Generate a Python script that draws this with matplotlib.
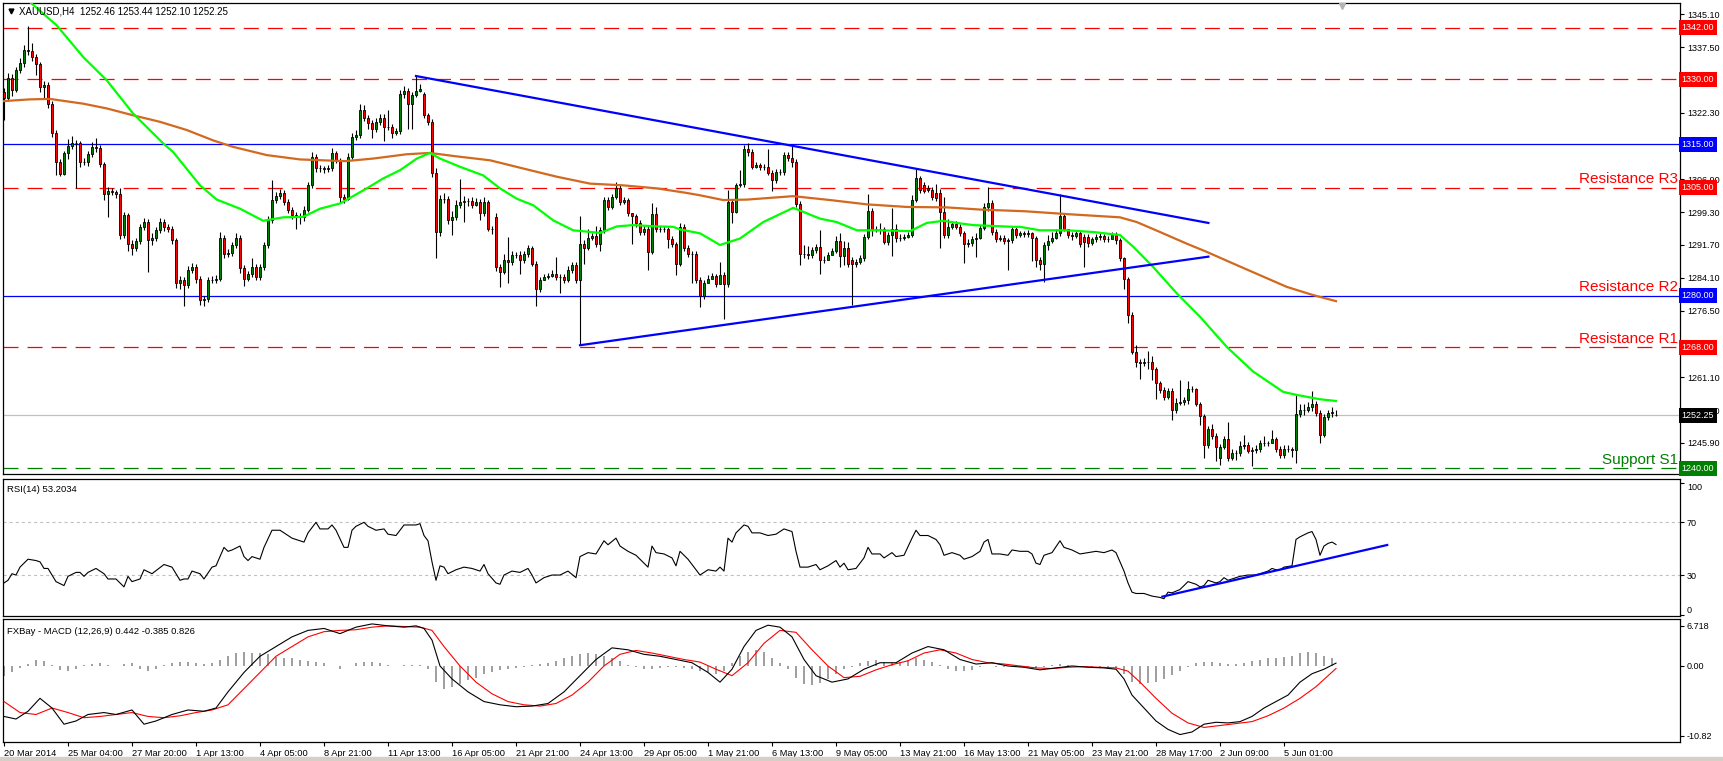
import matplotlib
matplotlib.use("Agg")
import matplotlib.pyplot as plt
from matplotlib.patches import Rectangle
from matplotlib.transforms import blended_transform_factory

plt.rcParams['font.family'] = ['Liberation Sans', 'DejaVu Sans']
plt.rcParams['lines.scale_dashes'] = False

symbol_title = "XAUUSD,H4  1252.46 1253.44 1252.10 1252.25"
rsi_title = "RSI(14) 53.2034"
macd_title = "FXBay - MACD (12,26,9) 0.442 -0.385 0.826"

# ---- H4 candles, one entry per bar ----
opens = [1327.0, 1325.8, 1330.4, 1327.5, 1332.1, 1333.7, 1336.9, 1336.6, 1335.1, 1333.5,
         1328.3, 1328.7, 1324.3, 1317.5, 1310.9, 1308.2, 1312.9, 1314.6, 1315.3, 1315.2,
         1310.9, 1310.9, 1312.7, 1314.4, 1314.2, 1310.4, 1303.4, 1304.2, 1304.0, 1303.6,
         1294.0, 1298.6, 1292.0, 1291.1, 1292.7, 1295.9, 1297.0, 1292.8, 1293.2, 1295.1,
         1297.0, 1295.9, 1295.5, 1292.8, 1282.8, 1283.7, 1282.4, 1286.0, 1286.6, 1283.9,
         1278.9, 1279.1, 1283.6, 1283.6, 1283.9, 1293.4, 1289.7, 1289.9, 1291.7, 1293.4,
         1286.3, 1283.9, 1284.9, 1286.5, 1284.2, 1286.5, 1291.7, 1297.4, 1302.2, 1303.0,
         1303.8, 1301.7, 1299.9, 1298.6, 1298.2, 1298.1, 1299.9, 1305.5, 1312.1, 1309.4,
         1309.4, 1309.2, 1309.4, 1312.9, 1311.3, 1302.8, 1302.4, 1312.1, 1316.7, 1317.1,
         1323.0, 1321.2, 1319.9, 1318.6, 1320.2, 1321.2, 1318.9, 1319.0, 1317.6, 1318.0,
         1326.7, 1327.4, 1324.4, 1326.3, 1327.4, 1326.6, 1321.7, 1320.2, 1308.4, 1294.7,
         1302.4, 1302.4, 1297.4, 1298.2, 1300.9, 1301.7, 1301.9, 1301.9, 1300.9, 1301.7,
         1299.0, 1301.7, 1295.5, 1298.1, 1286.6, 1285.5, 1288.2, 1287.8, 1289.3, 1289.3,
         1288.2, 1289.6, 1290.9, 1287.4, 1281.4, 1283.6, 1284.2, 1284.5, 1285.1, 1284.2,
         1284.3, 1283.7, 1286.0, 1287.0, 1283.6, 1291.9, 1291.1, 1293.2, 1293.7, 1292.0,
         1295.1, 1302.1, 1300.4, 1302.7, 1304.8, 1301.7, 1302.1, 1299.1, 1298.4, 1296.7,
         1294.7, 1295.3, 1290.1, 1298.8, 1295.3, 1295.5, 1295.3, 1293.0, 1291.9, 1287.4,
         1295.9, 1291.1, 1289.6, 1289.7, 1283.6, 1279.9, 1282.8, 1283.9, 1284.5, 1282.6,
         1284.7, 1282.6, 1301.7, 1299.4, 1305.5, 1305.8, 1314.0, 1313.2, 1309.8, 1310.2,
         1309.8, 1309.8, 1308.4, 1306.8, 1308.6, 1308.6, 1312.5, 1311.9, 1310.9, 1301.1,
         1289.7, 1289.7, 1289.3, 1290.5, 1291.3, 1288.2, 1288.3, 1289.3, 1290.3, 1292.7,
         1289.1, 1291.1, 1288.2, 1287.4, 1287.8, 1288.6, 1293.6, 1299.6, 1295.3, 1295.5,
         1295.3, 1292.4, 1294.0, 1295.5, 1293.2, 1293.4, 1293.6, 1294.0, 1302.2, 1307.1,
         1305.6, 1305.0, 1304.4, 1303.8, 1303.8, 1299.4, 1294.0, 1295.9, 1296.5, 1295.9,
         1294.4, 1291.9, 1292.2, 1293.0, 1293.2, 1295.7, 1300.4, 1301.4, 1294.7, 1293.0,
         1293.4, 1292.7, 1292.8, 1295.3, 1294.0, 1294.4, 1294.2, 1294.4, 1293.2, 1288.2,
         1287.4, 1291.7, 1292.7, 1293.4, 1294.4, 1298.4, 1295.5, 1294.0, 1293.7, 1294.4,
         1293.6, 1293.6, 1292.2, 1293.0, 1293.6, 1293.7, 1293.1, 1293.0, 1294.0, 1292.8,
         1288.6, 1283.9, 1275.5, 1267.0, 1264.7, 1264.3, 1264.7, 1264.7, 1262.9, 1259.7,
         1258.1, 1256.6, 1258.0, 1253.5, 1255.2, 1255.4, 1255.8, 1258.3, 1258.3, 1255.0,
         1252.1, 1245.4, 1249.2, 1247.5, 1242.5, 1244.9, 1246.9, 1242.5, 1243.6, 1243.5,
         1245.2, 1245.4, 1244.1, 1244.2, 1244.6, 1245.9, 1245.8, 1245.8, 1246.7, 1244.6,
         1243.1, 1244.6, 1244.6, 1244.2, 1252.6, 1253.5, 1253.6, 1254.1, 1255.0, 1252.9,
         1247.7, 1251.9, 1252.9, 1252.46]
highs = [1328.0, 1331.5, 1331.2, 1333.0, 1334.9, 1338.0, 1342.3, 1338.4, 1335.8, 1334.0,
         1329.6, 1329.5, 1325.0, 1318.3, 1311.5, 1313.4, 1316.2, 1316.9, 1316.0, 1315.8,
         1311.8, 1313.5, 1315.6, 1316.5, 1314.8, 1311.0, 1305.2, 1305.0, 1304.5, 1304.8,
         1299.4, 1299.2, 1292.8, 1293.4, 1296.5, 1298.0, 1297.6, 1294.5, 1295.8, 1298.0,
         1297.8, 1296.6, 1296.0, 1293.4, 1284.5, 1284.4, 1286.8, 1287.5, 1287.2, 1284.5,
         1280.0, 1284.4, 1284.5, 1284.8, 1294.8, 1294.0, 1290.8, 1292.5, 1294.5, 1294.0,
         1287.0, 1285.6, 1288.8, 1287.4, 1287.3, 1292.5, 1298.3, 1306.7, 1304.0, 1304.6,
         1304.4, 1302.3, 1300.6, 1299.3, 1299.0, 1300.8, 1306.3, 1313.3, 1312.8, 1310.2,
         1310.0, 1310.3, 1314.1, 1313.4, 1311.8, 1303.6, 1312.9, 1317.5, 1318.2, 1324.3,
         1324.2, 1321.8, 1320.6, 1321.0, 1322.0, 1321.9, 1323.0, 1319.6, 1318.8, 1327.5,
         1328.4, 1328.0, 1327.0, 1330.8, 1328.9, 1327.1, 1322.2, 1320.9, 1309.4, 1303.2,
         1303.8, 1303.0, 1299.5, 1302.0, 1307.0, 1303.0, 1302.6, 1302.8, 1302.5, 1302.4,
         1302.8, 1302.2, 1296.1, 1299.0, 1287.4, 1289.5, 1293.6, 1290.2, 1290.0, 1290.3,
         1290.3, 1291.7, 1291.5, 1288.0, 1284.3, 1285.0, 1285.2, 1285.9, 1288.9, 1285.0,
         1285.0, 1286.8, 1287.8, 1287.7, 1298.3, 1292.8, 1295.4, 1294.5, 1296.0, 1295.8,
         1302.9, 1302.8, 1303.4, 1306.3, 1305.5, 1302.8, 1302.6, 1299.2, 1298.9, 1297.4,
         1296.0, 1296.0, 1301.5, 1300.4, 1296.2, 1296.0, 1295.9, 1293.8, 1292.5, 1296.7,
         1296.5, 1291.8, 1290.4, 1290.3, 1284.3, 1283.6, 1284.7, 1285.3, 1285.0, 1287.8,
         1285.4, 1304.4, 1302.4, 1306.0, 1309.0, 1314.8, 1315.3, 1313.9, 1311.0, 1310.6,
         1310.5, 1313.8, 1309.0, 1309.3, 1309.2, 1313.2, 1313.3, 1314.5, 1311.5, 1301.8,
         1291.7, 1291.5, 1291.3, 1292.0, 1295.2, 1289.2, 1290.0, 1291.0, 1293.7, 1294.5,
         1292.6, 1292.5, 1289.0, 1288.5, 1289.4, 1294.3, 1303.5, 1300.2, 1296.2, 1296.8,
         1295.9, 1294.7, 1300.2, 1296.6, 1294.2, 1294.3, 1294.6, 1303.2, 1309.4, 1307.7,
         1306.2, 1305.6, 1305.2, 1305.8, 1304.6, 1302.8, 1297.6, 1297.1, 1297.3, 1296.6,
         1295.0, 1293.0, 1293.7, 1294.5, 1296.4, 1301.5, 1305.1, 1302.0, 1295.3, 1294.1,
         1294.0, 1293.4, 1296.0, 1295.9, 1295.0, 1294.9, 1295.2, 1294.8, 1293.8, 1289.0,
         1292.4, 1294.0, 1294.6, 1295.3, 1303.6, 1298.9, 1295.4, 1294.8, 1295.0, 1294.9,
         1294.2, 1294.2, 1293.6, 1294.2, 1294.5, 1294.3, 1293.7, 1294.7, 1294.6, 1293.3,
         1289.0, 1284.4, 1276.1, 1268.5, 1265.3, 1265.5, 1267.2, 1266.0, 1263.4, 1260.3,
         1258.9, 1258.6, 1258.7, 1256.2, 1260.4, 1256.5, 1260.3, 1259.0, 1258.7, 1255.4,
         1252.6, 1249.9, 1250.2, 1248.3, 1245.6, 1247.5, 1250.8, 1244.5, 1244.3, 1246.3,
         1247.7, 1246.0, 1245.0, 1245.3, 1246.6, 1247.4, 1246.4, 1248.9, 1247.3, 1245.2,
         1245.3, 1245.5, 1245.0, 1256.9, 1255.0, 1254.8, 1255.4, 1258.0, 1255.6, 1253.6,
         1252.5, 1253.6, 1254.3, 1253.44]
lows = [1320.6, 1325.0, 1326.2, 1327.0, 1331.4, 1333.0, 1335.6, 1334.2, 1331.0, 1327.2,
        1325.5, 1323.5, 1316.8, 1308.0, 1307.6, 1307.9, 1311.5, 1313.8, 1305.0, 1309.8,
        1310.2, 1310.0, 1312.0, 1313.3, 1309.7, 1302.0, 1298.2, 1303.2, 1302.6, 1293.0,
        1293.2, 1290.2, 1289.4, 1290.3, 1292.0, 1295.2, 1285.5, 1291.8, 1292.6, 1294.5,
        1295.0, 1294.6, 1292.0, 1281.8, 1281.5, 1277.5, 1281.8, 1285.3, 1283.0, 1277.9,
        1277.5, 1278.5, 1282.9, 1283.0, 1283.3, 1288.8, 1288.9, 1289.2, 1291.0, 1285.3,
        1282.3, 1283.3, 1284.3, 1283.5, 1283.6, 1286.0, 1291.0, 1296.8, 1301.5, 1302.4,
        1301.0, 1299.2, 1297.7, 1295.5, 1296.5, 1297.2, 1299.3, 1305.0, 1308.6, 1308.5,
        1308.4, 1308.5, 1308.9, 1310.6, 1301.5, 1301.4, 1302.0, 1311.5, 1316.0, 1316.5,
        1320.5, 1318.6, 1316.4, 1317.8, 1319.5, 1315.8, 1318.2, 1316.5, 1317.2, 1317.4,
        1325.6, 1318.6, 1318.6, 1326.0, 1327.1, 1321.0, 1319.4, 1307.5, 1288.6, 1293.8,
        1301.5, 1296.5, 1294.0, 1297.5, 1300.2, 1297.0, 1300.8, 1300.2, 1300.8, 1297.5,
        1298.4, 1294.9, 1294.3, 1285.6, 1282.0, 1285.0, 1282.8, 1287.0, 1288.6, 1285.0,
        1287.6, 1289.0, 1286.8, 1277.5, 1280.8, 1283.5, 1283.8, 1284.4, 1283.5, 1280.6,
        1283.0, 1283.2, 1285.3, 1282.8, 1268.5, 1287.4, 1290.5, 1292.8, 1291.3, 1290.4,
        1294.5, 1299.7, 1300.0, 1302.3, 1301.0, 1301.2, 1298.5, 1292.0, 1295.9, 1294.0,
        1294.0, 1285.9, 1289.6, 1294.6, 1294.8, 1294.6, 1290.9, 1291.2, 1284.7, 1286.8,
        1290.4, 1288.9, 1283.0, 1283.0, 1277.4, 1279.2, 1283.1, 1283.8, 1281.9, 1283.6,
        1274.5, 1282.0, 1296.7, 1299.0, 1305.2, 1305.2, 1312.4, 1309.2, 1309.4, 1309.1,
        1309.0, 1307.8, 1304.2, 1306.0, 1307.8, 1308.0, 1311.2, 1309.8, 1300.4, 1287.0,
        1288.8, 1288.5, 1288.6, 1289.8, 1284.9, 1287.6, 1288.4, 1289.5, 1289.8, 1286.6,
        1287.0, 1286.5, 1277.8, 1286.7, 1287.2, 1288.0, 1293.0, 1293.8, 1294.8, 1294.2,
        1292.0, 1291.6, 1289.2, 1292.5, 1292.6, 1292.8, 1293.3, 1293.5, 1301.7, 1303.7,
        1303.8, 1303.9, 1302.2, 1301.8, 1290.9, 1293.2, 1293.4, 1295.4, 1295.3, 1293.7,
        1287.6, 1291.2, 1291.5, 1289.0, 1293.0, 1295.1, 1299.6, 1294.0, 1292.3, 1292.6,
        1292.0, 1286.0, 1292.2, 1293.4, 1293.5, 1293.5, 1293.6, 1288.0, 1286.6, 1285.9,
        1283.2, 1290.5, 1292.1, 1293.0, 1293.8, 1294.9, 1293.3, 1292.9, 1293.4, 1291.3,
        1286.6, 1291.3, 1291.8, 1292.4, 1292.9, 1292.3, 1292.4, 1293.3, 1292.0, 1288.0,
        1281.6, 1273.7, 1266.4, 1263.5, 1260.8, 1263.8, 1263.0, 1260.4, 1256.0, 1257.4,
        1255.8, 1256.0, 1251.3, 1252.8, 1254.6, 1254.7, 1255.0, 1257.6, 1254.4, 1250.0,
        1242.3, 1244.7, 1246.9, 1241.8, 1240.8, 1244.4, 1241.8, 1242.0, 1242.0, 1242.8,
        1244.6, 1243.5, 1240.5, 1243.6, 1243.9, 1245.2, 1245.1, 1246.0, 1243.9, 1242.3,
        1242.5, 1243.8, 1242.6, 1241.2, 1252.0, 1252.4, 1253.0, 1253.3, 1252.1, 1245.8,
        1247.3, 1251.2, 1252.0, 1252.10]
closes = [1325.8, 1330.4, 1327.5, 1332.1, 1333.7, 1336.9, 1336.6, 1335.1, 1333.5, 1328.3,
          1328.7, 1324.3, 1317.5, 1310.9, 1308.2, 1312.9, 1314.6, 1315.3, 1315.2, 1310.9,
          1310.9, 1312.7, 1314.4, 1314.2, 1310.4, 1303.4, 1304.2, 1304.0, 1303.6, 1294.0,
          1298.6, 1292.0, 1291.1, 1292.7, 1295.9, 1297.0, 1292.8, 1293.2, 1295.1, 1297.0,
          1295.9, 1295.5, 1292.8, 1282.8, 1283.7, 1282.4, 1286.0, 1286.6, 1283.9, 1278.9,
          1279.1, 1283.6, 1283.6, 1283.9, 1293.4, 1289.7, 1289.9, 1291.7, 1293.4, 1286.3,
          1283.9, 1284.9, 1286.5, 1284.2, 1286.5, 1291.7, 1297.4, 1302.2, 1303.0, 1303.8,
          1301.7, 1299.9, 1298.6, 1298.2, 1298.1, 1299.9, 1305.5, 1312.1, 1309.4, 1309.4,
          1309.2, 1309.4, 1312.9, 1311.3, 1302.8, 1302.4, 1312.1, 1316.7, 1317.1, 1323.0,
          1321.2, 1319.9, 1318.6, 1320.2, 1321.2, 1318.9, 1319.0, 1317.6, 1318.0, 1326.7,
          1327.4, 1324.4, 1326.3, 1327.4, 1327.9, 1321.7, 1320.2, 1308.4, 1294.7, 1302.4,
          1302.4, 1297.4, 1298.2, 1300.9, 1301.7, 1301.9, 1301.9, 1300.9, 1301.7, 1299.0,
          1301.7, 1295.5, 1295.3, 1286.6, 1285.5, 1288.2, 1287.8, 1289.3, 1289.3, 1288.2,
          1289.6, 1290.9, 1287.4, 1281.4, 1283.6, 1284.2, 1284.5, 1285.1, 1284.2, 1284.3,
          1283.7, 1286.0, 1287.0, 1283.6, 1291.9, 1291.1, 1293.2, 1293.7, 1292.0, 1295.1,
          1302.1, 1300.4, 1302.7, 1304.8, 1301.7, 1302.1, 1299.1, 1298.4, 1296.7, 1294.7,
          1295.3, 1290.1, 1298.8, 1295.3, 1295.5, 1295.3, 1293.0, 1291.9, 1287.4, 1295.9,
          1291.1, 1289.6, 1289.7, 1283.6, 1279.9, 1282.8, 1283.9, 1284.5, 1282.6, 1284.7,
          1282.6, 1301.7, 1299.4, 1305.5, 1305.8, 1314.0, 1313.2, 1309.8, 1310.2, 1309.8,
          1309.8, 1308.4, 1306.8, 1308.6, 1308.6, 1312.5, 1311.9, 1310.9, 1301.1, 1289.7,
          1289.7, 1289.3, 1290.5, 1291.3, 1288.2, 1288.3, 1289.3, 1290.3, 1292.7, 1289.1,
          1291.1, 1287.4, 1287.4, 1287.8, 1288.6, 1293.6, 1299.6, 1295.3, 1295.5, 1295.3,
          1292.4, 1294.0, 1295.5, 1293.2, 1293.4, 1293.6, 1294.0, 1302.2, 1307.1, 1304.5,
          1304.3, 1304.4, 1302.8, 1302.6, 1299.4, 1294.0, 1295.9, 1296.5, 1295.9, 1294.4,
          1291.9, 1292.2, 1293.0, 1293.2, 1295.7, 1300.4, 1301.4, 1294.7, 1293.0, 1293.4,
          1292.7, 1292.8, 1295.3, 1294.0, 1294.4, 1294.2, 1294.4, 1293.2, 1288.2, 1287.4,
          1291.7, 1292.7, 1293.4, 1294.4, 1298.4, 1295.5, 1294.0, 1293.7, 1294.4, 1292.0,
          1292.4, 1292.2, 1293.0, 1293.6, 1293.7, 1293.1, 1293.0, 1294.0, 1292.8, 1288.6,
          1283.9, 1275.5, 1267.0, 1264.7, 1264.3, 1264.7, 1264.7, 1262.9, 1259.7, 1258.1,
          1256.6, 1258.0, 1253.5, 1255.2, 1255.4, 1255.8, 1258.3, 1258.3, 1255.0, 1252.1,
          1245.4, 1249.2, 1247.5, 1245.0, 1244.9, 1246.9, 1242.5, 1243.6, 1243.5, 1245.2,
          1245.4, 1244.1, 1244.2, 1244.6, 1245.9, 1245.8, 1245.8, 1246.7, 1244.6, 1243.1,
          1244.6, 1244.6, 1244.2, 1252.6, 1253.5, 1253.6, 1254.1, 1255.0, 1252.9, 1247.7,
          1251.9, 1252.9, 1253.1, 1252.25]

# moving averages (green fast, orange slow), read as vertices
green_ma_x = [0, 6.9, 13.2, 19.8, 25.7, 32.3, 39.8, 42.3, 49, 53.2,
              59, 64.8, 69.8, 74.8, 79, 84, 90.7, 94.8, 99, 103.2,
              106.5, 109, 114, 119.8, 124, 128.2, 132.3, 137.3, 142.3, 149,
              153.2, 157.3, 163.2, 167.3, 169, 174, 179, 184, 189.8, 197.3,
              204, 208.2, 213.2, 219, 226.5, 230.7, 234.8, 239, 242.3, 252.3,
              254, 259, 265.7, 272.3, 279, 282.3, 287.3, 293.2, 299, 305.7,
              312.3, 319.8, 323.2, 329, 333]
green_ma_y = [1353.0, 1347.6, 1342.5, 1335.2, 1329.8, 1322.1, 1315.2, 1313.2, 1305.5, 1302.2,
              1300.1, 1297.3, 1298.1, 1298.2, 1300.1, 1301.3, 1304.8, 1307.1, 1309.0, 1311.7,
              1313.0, 1311.7, 1309.8, 1307.8, 1304.8, 1302.4, 1300.9, 1297.4, 1295.1, 1294.5,
              1296.0, 1296.3, 1296.0, 1295.9, 1295.3, 1294.4, 1291.7, 1293.2, 1297.0, 1300.3,
              1297.8, 1297.0, 1295.1, 1295.1, 1294.9, 1296.8, 1297.3, 1296.7, 1296.3, 1295.9,
              1295.9, 1295.1, 1295.1, 1294.7, 1294.0, 1291.3, 1286.6, 1280.5, 1275.1, 1268.1,
              1262.4, 1257.7, 1257.0, 1256.0, 1255.6]
orange_ma_x = [0, 6.5, 11.5, 19.8, 25.7, 32.3, 39, 45.7, 52.3, 57.3,
               65.7, 74, 85.3, 92.3, 100.7, 106.5, 113.2, 121.5, 129.8, 138.2,
               146.5, 154.8, 163.2, 170.3, 174, 179.8, 185.7, 197.3, 206.5, 215.7,
               225.7, 235.7, 244, 255.3, 266.5, 279, 283.2, 289, 295.7, 300.7,
               307.3, 314, 320.7, 327.3, 333]
orange_ma_y = [1325.0, 1325.4, 1325.5, 1324.4, 1323.3, 1321.7, 1320.2, 1318.3, 1315.9, 1314.4,
               1312.5, 1311.5, 1311.1, 1311.7, 1312.7, 1313.0, 1312.2, 1311.3, 1309.4, 1307.5,
               1305.9, 1305.5, 1304.8, 1303.8, 1303.2, 1302.1, 1302.2, 1303.0, 1302.1, 1301.1,
               1300.5, 1300.4, 1299.9, 1299.5, 1298.8, 1298.1, 1297.0, 1294.7, 1292.0, 1290.1,
               1287.4, 1284.7, 1282.0, 1280.1, 1278.7]

# triangle trendlines (bar, price)
upper_trend = ([103, 301.1], [1330.8, 1296.8])
lower_trend = ([144, 301.1], [1268.5, 1289.0])

# horizontal levels
levels = [1342.0, 1330.0, 1315.0, 1305.0, 1280.0, 1268.0, 1252.25, 1240.0]
level_names = {1305.0: "Resistance R3", 1280.0: "Resistance R2",
               1268.0: "Resistance R1", 1240.0: "Support S1"}
price_ticks = [1345.10, 1337.50, 1329.90, 1322.30, 1314.70, 1306.90, 1299.30,
               1291.70, 1284.10, 1276.50, 1268.90, 1261.10, 1253.50, 1245.90]
# these scale labels sit under the level boxes in the reference
hidden_ticks = [1329.90, 1314.70, 1268.90]

# RSI(14)
rsi_x = [0, 1, 2, 3, 4, 5, 6, 8, 9, 10,
         11, 12, 13, 15, 16, 18, 19, 20, 21, 23,
         25, 26, 28, 30, 31, 32, 34, 35, 37, 40,
         42, 44, 45, 46, 47, 49, 50, 52, 53, 55,
         56, 57, 59, 60, 61, 62, 64, 65, 67, 69,
         72, 75, 76, 78, 79, 81, 82, 83, 85, 86,
         87, 88, 90, 91, 93, 95, 96, 98, 100, 103,
         104, 105, 106, 107, 108, 109, 110, 111, 113, 115,
         117, 119, 120, 121, 123, 124, 125, 127, 129, 131,
         132, 133, 135, 137, 139, 141, 143, 144, 146, 148,
         150, 151, 153, 154, 156, 158, 159, 161, 162, 163,
         165, 167, 168, 169, 171, 173, 174, 176, 178, 179,
         180, 181, 182, 183, 185, 186, 187, 189, 191, 193,
         195, 197, 198, 199, 201, 203, 204, 206, 208, 209,
         210, 211, 213, 215, 216, 217, 219, 220, 222, 223,
         225, 227, 228, 229, 231, 233, 234, 235, 237, 239,
         240, 242, 244, 245, 246, 247, 249, 251, 252, 254,
         256, 257, 258, 259, 260, 262, 264, 265, 267, 269,
         271, 273, 275, 277, 278, 279, 280, 281, 282, 283,
         285, 287, 289, 290, 291, 292, 294, 296, 298, 299,
         300, 301, 303, 304, 305, 306, 307, 309, 311, 313,
         314, 316, 317, 318, 319, 320, 322, 323, 324, 326,
         327, 328, 329, 330, 331, 332, 333]
rsi_y = [24, 26, 31, 30, 36, 39, 42, 41, 40, 35,
         35, 30, 25, 22, 29, 32, 32, 29, 32, 35,
         31, 27, 27, 21, 29, 25, 27, 34, 31, 38,
         36, 26, 27, 27, 33, 31, 27, 36, 37, 51,
         48, 49, 52, 44, 41, 44, 42, 51, 64, 64,
         58, 55, 62, 70, 65, 65, 68, 64, 51, 51,
         64, 67, 70, 67, 64, 65, 61, 60, 68, 68,
         69, 60, 56, 40, 26, 37, 36, 31, 34, 36,
         35, 33, 38, 31, 24, 23, 30, 33, 32, 35,
         30, 24, 28, 30, 30, 33, 28, 44, 47, 46,
         56, 53, 58, 52, 48, 45, 42, 36, 52, 47,
         46, 43, 37, 48, 42, 34, 30, 34, 33, 36,
         33, 58, 55, 62, 68, 67, 62, 62, 60, 61,
         65, 63, 48, 36, 36, 38, 34, 37, 41, 36,
         39, 34, 35, 43, 51, 46, 46, 43, 47, 44,
         45, 58, 64, 60, 60, 57, 53, 45, 47, 45,
         42, 44, 48, 55, 57, 46, 46, 45, 49, 48,
         48, 46, 39, 38, 45, 47, 56, 51, 49, 46,
         47, 48, 47, 49, 47, 40, 33, 24, 17, 16,
         16, 14, 13, 12, 17, 16.5, 19, 25, 23, 21,
         22, 26, 24, 25, 28, 26, 27, 29, 30, 30,
         31, 33, 35, 34, 34, 36, 37, 57, 59, 62,
         63, 57, 45, 52, 54, 55, 53.2]
rsi_trend = ([289.6, 345.8], [13.6, 52.8])

# MACD main (black), signal (red), histogram (grey, every 2nd bar)
macd_x = [0, 3, 6, 9, 12, 15, 18, 21, 25, 28,
          32, 35, 38, 42, 46, 50, 53, 56, 60, 64,
          68, 72, 76, 80, 84, 88, 92, 96, 100, 103,
          105, 107, 109, 112, 116, 120, 124, 128, 132, 136,
          140, 144, 148, 152, 156, 160, 164, 168, 172, 176,
          179, 182, 185, 188, 191, 194, 197, 200, 203, 207,
          211, 215, 219, 223, 227, 231, 235, 239, 243, 247,
          251, 255, 259, 263, 267, 271, 275, 278, 280, 282,
          285, 288, 291, 294, 297, 300, 303, 306, 309, 312,
          315, 318, 321, 324, 327, 330, 333]
macd_y = [-7.8, -8.2, -7.0, -5.0, -6.5, -9.0, -8.5, -7.5, -7.2, -7.5,
          -6.8, -9.0, -8.5, -7.5, -6.8, -7.0, -6.5, -4.0, -1.0, 1.5,
          3.0, 4.5, 5.5, 5.8, 5.0, 6.0, 6.5, 6.2, 6.0, 6.2,
          5.8, 4.0, 0.0, -2.0, -4.0, -5.5, -6.0, -6.3, -6.2, -5.8,
          -4.0, -1.5, 1.0, 2.8, 2.5, 1.8, 1.5, 1.0, 0.5, -1.0,
          -2.5, -0.5, 3.0, 5.5, 6.3, 6.0, 4.5, 1.0, -1.5, -2.5,
          -2.0, -0.5, 0.5, 0.5, 2.0, 3.0, 2.5, 1.0, 0.3, 0.5,
          0.0, -0.2, -0.6, -0.3, 0.0, -0.2, -0.3, -0.5, -2.0, -4.5,
          -6.5, -8.5, -9.8, -10.6, -10.2, -9.0, -8.7, -8.8, -8.6, -7.8,
          -6.5, -5.5, -4.5, -2.5, -1.2, -0.5, 0.44]
signal_x = [0, 4, 8, 12, 16, 20, 24, 28, 32, 36,
            40, 44, 48, 52, 56, 60, 64, 68, 72, 76,
            80, 84, 88, 92, 96, 100, 104, 107, 110, 114,
            118, 122, 126, 130, 134, 138, 142, 146, 150, 154,
            158, 162, 166, 170, 174, 178, 182, 186, 190, 194,
            198, 202, 206, 210, 214, 218, 222, 226, 230, 234,
            238, 242, 246, 250, 254, 258, 262, 266, 270, 274,
            278, 281, 284, 288, 292, 296, 300, 304, 308, 312,
            316, 320, 324, 328, 333]
signal_y = [-5.5, -7.2, -7.5, -6.5, -7.2, -8.0, -7.8, -7.5, -7.2, -7.8,
            -8.0, -7.7, -7.2, -6.8, -6.0, -3.5, -1.0, 1.5, 3.0, 4.5,
            5.3, 5.5, 5.6, 6.0, 6.2, 6.1, 6.0, 5.5, 3.0, 0.0,
            -2.5, -4.3, -5.5, -6.0, -6.2, -5.8, -4.5, -2.5, 0.0, 1.8,
            2.4, 2.0, 1.5, 1.0, 0.6, -0.5, -1.5, 0.5, 3.5, 5.5,
            5.2, 2.5, 0.0, -1.8, -1.6, -0.6, 0.2, 0.8, 2.0, 2.5,
            2.0, 1.0, 0.5, 0.3, 0.0, -0.3, -0.4, -0.2, -0.1, -0.2,
            -0.3, -0.8, -2.5, -5.0, -7.3, -8.8, -9.5, -9.2, -8.9, -8.6,
            -7.7, -6.5, -5.0, -3.2, -0.39]
hist_v = [-1.5, -1.0, -0.3, 0.3, 1.0, 0.8, 0.2, -0.6, -0.8, -0.5,
          0.2, 0.3, 0.4, 0.2, 0.0, 0.3, 0.4, -0.5, -0.8, -0.4,
          0.2, 0.4, 0.6, 0.6, 0.4, 0.3, 0.4, 1.0, 1.6, 2.0,
          2.2, 2.0, 2.0, 1.8, 1.4, 1.2, 1.2, 1.0, 0.8, 0.6,
          0.4, 0.0, -0.4, 0.0, 0.4, 0.6, 0.6, 0.4, 0.2, 0.0,
          0.1, 0.2, 0.1, -0.5, -2.5, -3.5, -3.2, -2.8, -2.2, -1.8,
          -1.2, -0.9, -0.6, -0.5, -0.3, -0.1, 0.1, 0.3, 0.5, 0.8,
          1.2, 1.6, 1.8, 2.0, 1.8, 1.5, 1.2, 0.8, 0.2, -0.2,
          -0.4, -0.4, -0.3, -0.2, -0.2, -0.3, -0.4, -0.8, -1.0, -1.2,
          -0.8, 0.5, 1.5, 2.2, 2.4, 2.2, 1.2, 0.5, -0.5, -1.8,
          -2.8, -3.0, -2.6, -2.0, -1.2, -0.4, -0.2, 0.5, 0.8, 1.0,
          0.6, 0.4, 0.6, 1.0, 1.2, 1.0, 0.6, 0.2, -0.4, -0.8,
          -0.8, -0.6, -0.2, 0.0, -0.1, -0.2, -0.2, -0.1, -0.2, -0.3,
          -0.1, 0.1, 0.3, 0.1, 0.0, -0.1, -0.1, -0.1, -0.2, -0.3,
          -1.2, -2.4, -2.8, -2.6, -2.4, -2.0, -1.4, -0.8, -0.2, 0.4,
          0.6, 0.6, 0.5, 0.3, 0.3, 0.4, 0.7, 1.0, 1.2, 1.3,
          1.4, 1.5, 2.0, 2.2, 2.0, 1.6, 1.2]

time_labels = ['20 Mar 2014', '25 Mar 04:00', '27 Mar 20:00', '1 Apr 13:00', '4 Apr 05:00',
               '8 Apr 21:00', '11 Apr 13:00', '16 Apr 05:00', '21 Apr 21:00', '24 Apr 13:00',
               '29 Apr 05:00', '1 May 21:00', '6 May 13:00', '9 May 05:00', '13 May 21:00',
               '16 May 13:00', '21 May 05:00', '23 May 21:00', '28 May 17:00', '2 Jun 09:00',
               '5 Jun 01:00']

# ---------------------------------------------------------------
W, H = 1723, 761
fig = plt.figure(figsize=(W / 100, H / 100), dpi=100)
fig.patch.set_facecolor('white')


def px_box(x0, y0, x1, y1):
    return [x0 / W, 1 - y1 / H, (x1 - x0) / W, (y1 - y0) / H]


ax = fig.add_axes(px_box(3, 3, 1680, 474))
ax_rsi = fig.add_axes(px_box(3, 479, 1680, 616))
ax_macd = fig.add_axes(px_box(3, 619, 1680, 742))

for a in (ax, ax_rsi, ax_macd):
    a.set_xlim(-0.25, 419)
    for s in a.spines.values():
        s.set_linewidth(0.9)
        s.set_color('black')
    a.yaxis.tick_right()
    a.tick_params(axis='y', direction='out', length=3, width=0.8, labelsize=6.5, pad=2)
    a.tick_params(axis='x', bottom=False, labelbottom=False)

red_dash = (0, (10.8, 6.5))

# ---- main price window ----
ax.set_ylim(1238.7, 1347.7)
ax.set_yticks(price_ticks)
ax.set_yticklabels(["" if t in hidden_ticks else "%.2f" % t for t in price_ticks])

level_style = {1342.0: ('#ff0000', red_dash, '#ff0000'),
               1330.0: ('#ff0000', red_dash, '#ff0000'),
               1315.0: ('#0000ff', '-', '#0000ff'),
               1305.0: ('#ff0000', red_dash, '#ff0000'),
               1280.0: ('#0000ff', '-', '#0000ff'),
               1268.0: ('#ff0000', red_dash, '#ff0000'),
               1252.25: ('#c0c0c0', '-', '#000000'),
               1240.0: ('#008000', red_dash, '#008000')}
trans = blended_transform_factory(ax.transAxes, ax.transData)
for lv in levels:
    col, ls, boxcol = level_style[lv]
    ax.axhline(lv, color=col, linestyle=ls, linewidth=0.9, zorder=1)
    ax.text(1.0008, lv, "%.2f" % lv, transform=trans, color='white', fontsize=6.5,
            ha='left', va='center', clip_on=False, zorder=10,
            bbox=dict(boxstyle='square,pad=0.3', fc=boxcol, ec='none'))
    if lv in level_names:
        ax.annotate(level_names[lv], xy=(0.9988, lv), xycoords=trans,
                    xytext=(0, 3), textcoords='offset points', ha='right', va='baseline',
                    fontsize=11, color='#008000' if lv == 1240.0 else '#ff0000', zorder=6)

idx = list(range(len(closes)))
body = [c - o for o, c in zip(opens, closes)]
body_col = ['#008000' if c >= o else '#ff0000' for o, c in zip(opens, closes)]
ax.vlines(idx, lows, highs, color='black', linewidth=0.8, zorder=3)
ax.bar(idx, body, bottom=opens, width=0.62, color=body_col, edgecolor='black',
       linewidth=0.6, zorder=4)

ax.plot(orange_ma_x, orange_ma_y, color='#d2691e', linewidth=1.6, zorder=5)
ax.plot(green_ma_x, green_ma_y, color='#00ff00', linewidth=1.6, zorder=5)
ax.plot(*upper_trend, color='#0000ff', linewidth=1.6, zorder=6)
ax.plot(*lower_trend, color='#0000ff', linewidth=1.6, zorder=6)

ax.text(0.0095, 0.983, symbol_title, transform=ax.transAxes, fontsize=7,
        ha='left', va='center', zorder=8)
ax.plot([0.0045], [0.983], marker='v', color='black', markersize=3.5,
        transform=ax.transAxes, zorder=8)
ax.plot([334.5], [1347.0], marker='v', color='#b4b4b4', markersize=5, zorder=8, clip_on=False)

# ---- RSI window ----
ax_rsi.set_ylim(-1.1, 102.9)
ax_rsi.set_yticks([100, 70, 30, 0])
ax_rsi.set_yticklabels(['100', '70', '30', '0'])
labs = ax_rsi.get_yticklabels()
labs[0].set_va('top')
labs[3].set_va('bottom')
for lv in (70, 30):
    ax_rsi.axhline(lv, color='#c0c0c0', linestyle=(0, (2.2, 2.2)), linewidth=0.8)
ax_rsi.plot(rsi_x, rsi_y, color='black', linewidth=0.8)
ax_rsi.plot(*rsi_trend, color='#0000ff', linewidth=1.6)
ax_rsi.text(0.0024, 0.92, rsi_title, transform=ax_rsi.transAxes, fontsize=6.8,
            ha='left', va='center')

# ---- MACD window ----
ax_macd.set_ylim(-11.75, 7.26)
ax_macd.set_yticks([6.2, 0.0, -10.82])
ax_macd.set_yticklabels(['6.718', '0.00', '-10.82'])
ax_macd.bar(list(range(0, 334, 2)), hist_v, width=0.35, color='#a0a0a0', zorder=1)
ax_macd.plot(signal_x, signal_y, color='#ff0000', linewidth=0.8, zorder=3)
ax_macd.plot(macd_x, macd_y, color='black', linewidth=0.8, zorder=4)
ax_macd.text(0.0024, 0.902, macd_title, transform=ax_macd.transAxes, fontsize=6.8,
             ha='left', va='center')

ax_macd.tick_params(axis='x', bottom=True, labelbottom=True, direction='out',
                    length=3, width=0.8, labelsize=6.7, pad=2)
ax_macd.set_xticks(list(range(0, 321, 16)))
ax_macd.set_xticklabels(time_labels)
for lab in ax_macd.get_xticklabels():
    lab.set_ha('left')

fig.patches.append(Rectangle((0, 0), 1, 4 / H, transform=fig.transFigure,
                             color='#d4d0c8', zorder=0))

fig.savefig('out.png', dpi=100)
